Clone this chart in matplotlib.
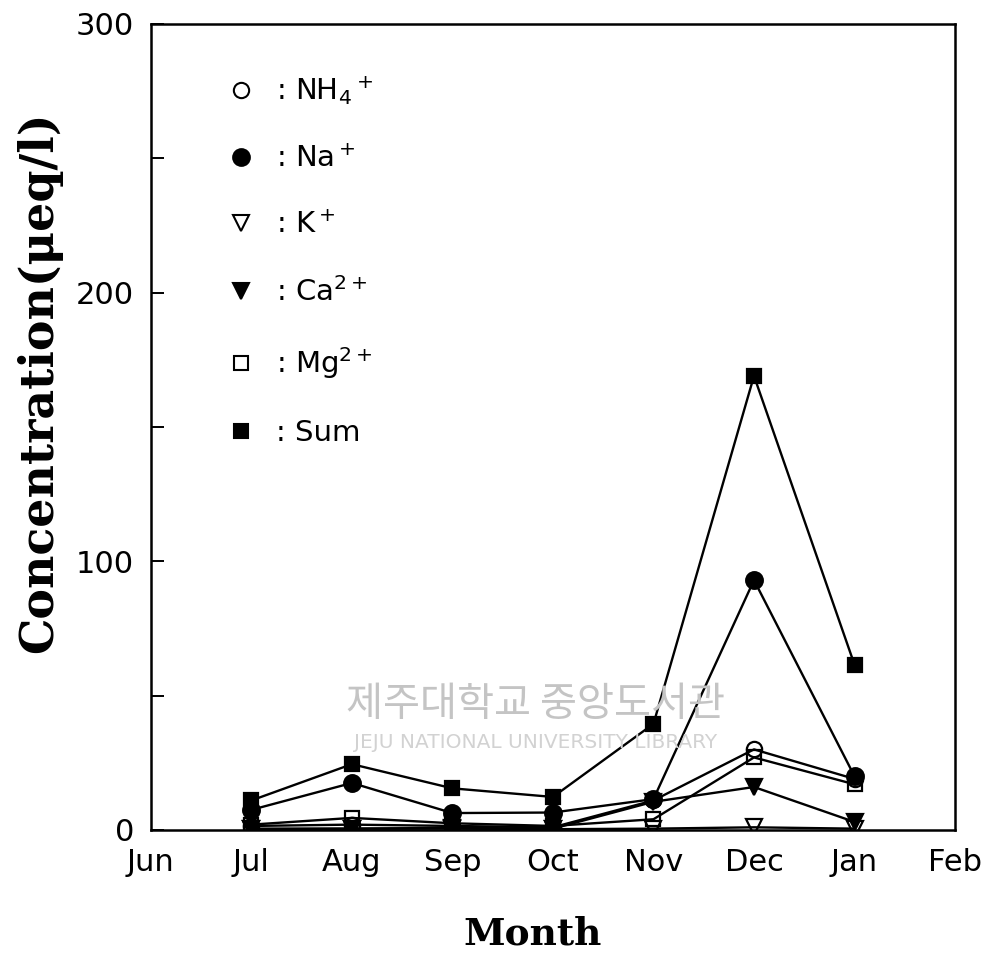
import matplotlib
matplotlib.use("Agg")
import matplotlib.pyplot as plt
from matplotlib.lines import Line2D
from matplotlib.ticker import MultipleLocator

months = ["Jun", "Jul", "Aug", "Sep", "Oct", "Nov", "Dec", "Jan", "Feb"]
data_months = ["Jul", "Aug", "Sep", "Oct", "Nov", "Dec", "Jan"]

nh4 = [1.5, 2.0, 1.5, 1.0, 11.0, 30.0, 19.0]
na = [7.5, 17.5, 6.3, 6.5, 11.5, 93.0, 20.0]
k = [0.3, 0.5, 0.5, 0.3, 0.5, 1.0, 0.5]
ca = [0.5, 0.5, 0.8, 0.5, 10.5, 16.0, 3.0]
mg = [2.0, 4.5, 2.5, 1.5, 4.0, 27.0, 17.0]
total = [11.0, 24.5, 15.5, 12.3, 39.5, 169.0, 61.5]

labels = [r": NH$_4$$^+$", r": Na$^+$", r": K$^+$", r": Ca$^{2+}$", r": Mg$^{2+}$", ": Sum"]

plt.rcParams['font.family'] = ['DejaVu Sans']
plt.rcParams['mathtext.fontset'] = 'dejavusans'

fig = plt.figure(figsize=(9.86, 9.55), dpi=100)
ax = fig.add_axes([0.153, 0.1309, 0.8156, 0.844])

xpos = [months.index(m) for m in data_months]

series = [
    (nh4, dict(marker='o', mfc='none', ms=11)),
    (na, dict(marker='o', mfc='black', ms=12)),
    (k, dict(marker='v', mfc='none', ms=11)),
    (ca, dict(marker='v', mfc='black', ms=11)),
    (mg, dict(marker='s', mfc='none', ms=9.5)),
    (total, dict(marker='s', mfc='black', ms=10)),
]

for vals, st in series:
    ax.plot(xpos, vals, color='black', lw=1.7, mec='black', mew=1.6, **st)

handles = []
for (vals, st), lab in zip(series, labels):
    sz = st['ms'] * 1.0
    handles.append(Line2D([], [], ls='none', color='black', marker=st['marker'],
                          mfc=st['mfc'], mec='black', mew=1.5, ms=sz, label=lab))
leg = ax.legend(handles=handles, loc='upper left', bbox_to_anchor=(0.08, 0.955),
                frameon=False, fontsize=21, handlelength=0.8, handletextpad=0.8,
                labelspacing=1.3, borderpad=0)

ax.set_xlim(0, 8)
ax.set_ylim(0, 300)
ax.set_xticks(range(len(months)))
ax.set_xticklabels(months)
ax.yaxis.set_major_locator(MultipleLocator(100))
ax.yaxis.set_minor_locator(MultipleLocator(50))
ax.tick_params(axis='x', length=0, pad=13, labelsize=22)
ax.tick_params(axis='y', which='both', direction='in', length=9, width=1.4,
               pad=12, labelsize=22, right=False)
for sp in ax.spines.values():
    sp.set_linewidth(1.8)

fig.text(0.040, 0.600, "Concentration(\u03bceq/l)", rotation=90, ha='center', va='center',
         fontsize=33, fontweight='bold', family='DejaVu Serif')
fig.text(0.540, 0.022, "Month", ha='center', va='center',
         fontsize=27, fontweight='bold', family='DejaVu Serif')

# scan watermark
fig.text(0.543, 0.262, "제주대학교 중앙도서관", ha='center', va='center', fontsize=29,
         color='#c4c4c4', family=['Noto Sans CJK KR', 'DejaVu Sans'], zorder=0)
fig.text(0.543, 0.222, "JEJU NATIONAL UNIVERSITY LIBRARY", ha='center', va='center',
         fontsize=14.5, color='#d2d2d2', family=['DejaVu Sans'], zorder=0)

fig.savefig("out.png", dpi=100)
